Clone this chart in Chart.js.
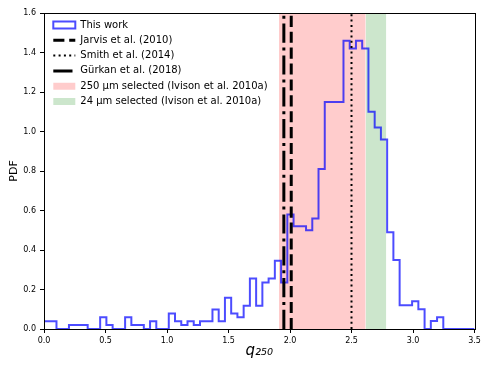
<!DOCTYPE html>
<html>
<head>
<meta charset="utf-8">
<script src="https://cdn.jsdelivr.net/npm/chart.js@4.4.0/dist/chart.umd.min.js"></script>
<style>
  html, body { margin: 0; padding: 0; background: #fff; }
</style>
</head>
<body>
<canvas id="pdfChart" width="491" height="368"></canvas>
<script>
// histogram of q250: equal bins between binMin and binMax
const binMin = 0.0;
const binMax = 3.5;
const pdfValues = [
  0.039, 0.039, 0, 0, 0.020, 0.020, 0.020, 0, 0, 0.059,
  0.020, 0, 0, 0.059, 0.020, 0.020, 0, 0.039, 0, 0,
  0.079, 0.039, 0.020, 0.039, 0.020, 0.039, 0.039, 0.099, 0.039, 0.158,
  0.079, 0.059, 0.118, 0.256, 0.118, 0.236, 0.256, 0.345, 0.236, 0.58,
  0.52, 0.52, 0.50, 0.56, 0.81, 1.15, 1.15, 1.15, 1.46, 1.42,
  1.46, 1.42, 1.10, 1.02, 0.96, 0.49, 0.35, 0.12, 0.12, 0.14,
  0.10, 0, 0.04, 0.06, 0, 0, 0, 0, 0
];

// literature values of q250
const refNames = ['Jarvis et al. (2010)', 'Smith et al. (2014)', 'Gürkan et al. (2018)'];
const refValues = [2.01, 2.50, 1.95];

// selection ranges (Ivison et al. 2010a)
const bandNames = ['250 μm selected (Ivison et al. 2010a)', '24 μm selected (Ivison et al. 2010a)'];
const bandLow = [1.91, 2.615];
const bandHigh = [2.615, 2.783];

// tick labels
const xTicks = [0.0, 0.5, 1.0, 1.5, 2.0, 2.5, 3.0, 3.5];
const yTicks = [0.0, 0.2, 0.4, 0.6, 0.8, 1.0, 1.2, 1.4, 1.6];

const histColor = 'rgba(0, 0, 255, 0.7)';
const refDashes = [[11.1, 4.8], [2, 3.3], [19.2, 4.8, 3, 4.8]];
const refWidths = [3, 2, 3];
const bandColors = ['rgba(255, 0, 0, 0.2)', 'rgba(0, 128, 0, 0.2)'];
const font = "'DejaVu Sans', sans-serif";

const yTop = yTicks[yTicks.length - 1];

// step outline of the histogram
const binWidth = (binMax - binMin) / pdfValues.length;
const histPoints = [{x: binMin, y: 0}];
pdfValues.forEach((v, i) => histPoints.push({x: binMin + i * binWidth, y: v}));
histPoints.push({x: binMax, y: 0});

const datasets = [];
refValues.forEach((v, i) => {
    datasets.push({
        label: refNames[i],
        data: [{x: v, y: 0}, {x: v, y: yTop}],
        borderColor: '#000',
        borderWidth: refWidths[i],
        borderDash: refDashes[i],
        pointRadius: 0,
        order: 1
    });
});
datasets.push({
    label: 'This work',
    data: histPoints,
    stepped: true,
    borderColor: histColor,
    borderWidth: 2,
    pointRadius: 0,
    order: 2
});
bandNames.forEach((n, i) => {
    datasets.push({
        label: n,
        data: [{x: bandLow[i], y: yTop}, {x: bandHigh[i], y: yTop}],
        borderColor: 'rgba(0,0,0,0)',
        borderWidth: 0,
        backgroundColor: bandColors[i],
        fill: 'origin',
        pointRadius: 0,
        order: 3
    });
});

// matplotlib style box around the axes
const frame = {
    id: 'frame',
    afterDraw(chart) {
        const {ctx, chartArea: a} = chart;
        ctx.save();
        ctx.strokeStyle = '#000';
        ctx.lineWidth = 1;
        ctx.strokeRect(Math.round(a.left) + 0.5, Math.round(a.top) + 0.5,
            Math.round(a.right - a.left), Math.round(a.bottom - a.top));
        ctx.restore();
    }
};

// place the legend in the upper left corner of the axes
const legendNudge = {
    id: 'legendNudge',
    afterLayout(chart) {
        const lg = chart.legend;
        const h = lg.bottom - lg.top;
        lg.left = chart.chartArea.left + 4;
        lg.top = chart.chartArea.top + 1.7;
        lg.bottom = lg.top + h;
    }
};

new Chart(document.getElementById('pdfChart'), {
    type: 'line',
    data: { datasets: datasets },
    plugins: [frame, legendNudge],
    options: {
        responsive: false,
        animation: false,
        devicePixelRatio: 1,
        layout: { padding: { top: 13, right: 16.5, left: 0, bottom: 0 } },
        scales: {
            x: {
                type: 'linear',
                min: binMin,
                max: binMax,
                afterBuildTicks: axis => { axis.ticks = xTicks.map(v => ({value: v})); },
                afterFit: axis => { axis.height = 39; },
                ticks: {
                    callback: v => v.toFixed(1),
                    color: '#000',
                    font: { family: font, size: 8 },
                    padding: 3,
                    maxRotation: 0
                },
                grid: { drawOnChartArea: false, tickLength: 4, color: '#000' },
                border: { color: '#000' },
                title: {
                    display: true,
                    text: 'q₂₅₀',
                    color: '#000',
                    font: { family: font, size: 15, style: 'italic' },
                    padding: { top: 0, bottom: 8 }
                }
            },
            y: {
                type: 'linear',
                min: 0,
                max: yTop,
                afterBuildTicks: axis => { axis.ticks = yTicks.map(v => ({value: v})); },
                afterFit: axis => { axis.width = 44; },
                ticks: {
                    callback: v => v.toFixed(1),
                    color: '#000',
                    font: { family: font, size: 8 },
                    padding: 4
                },
                grid: { drawOnChartArea: false, tickLength: 4, color: '#000' },
                border: { color: '#000' },
                title: {
                    display: true,
                    text: 'PDF',
                    color: '#000',
                    font: { family: font, size: 11 },
                    padding: { top: 8, bottom: 0 }
                }
            }
        },
        plugins: {
            tooltip: { enabled: false },
            legend: {
                position: 'chartArea',
                align: 'start',
                labels: {
                    usePointStyle: true,
                    pointStyleWidth: 22,
                    boxHeight: 7,
                    padding: 5.3,
                    color: '#000',
                    font: { family: font, size: 10 },
                    generateLabels: () => [
                        { text: 'This work', pointStyle: 'rect', fillStyle: 'rgba(0,0,0,0)',
                          strokeStyle: histColor, lineWidth: 2, hidden: false },
                        ...refNames.map((n, i) => ({
                            text: n, pointStyle: 'line', fillStyle: '#000', strokeStyle: '#000',
                            lineWidth: refWidths[i], lineDash: refDashes[i], hidden: false
                        })),
                        ...bandNames.map((n, i) => ({
                            text: n, pointStyle: 'rect', fillStyle: bandColors[i],
                            strokeStyle: 'rgba(0,0,0,0)', lineWidth: 0, hidden: false
                        }))
                    ]
                }
            }
        }
    }
});
</script>
</body>
</html>
